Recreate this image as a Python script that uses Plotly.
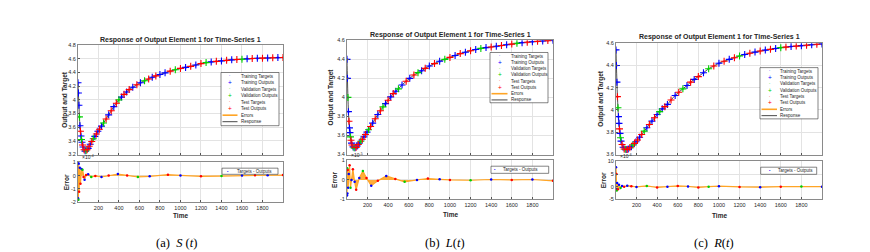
import plotly.graph_objects as go

W, H = 870, 252

# ---------------- data ----------------
t = [1, 5, 10, 15, 20, 25, 30, 35, 40, 45, 50, 60, 70, 80, 90, 100, 110, 120, 135, 150,
     165, 180, 195, 210, 230, 250, 275, 300, 325, 350, 375, 400, 425, 450, 475, 500, 535, 575, 610, 650,
     690, 725, 760, 800, 850, 900, 950, 1000, 1050, 1100, 1150, 1200, 1250, 1300, 1350, 1400, 1450, 1500,
     1550, 1600, 1650, 1700, 1750, 1800, 1850, 1900, 1950, 2000]

s_resp = [4.25, 4.10, 3.92, 3.75, 3.62, 3.54, 3.47, 3.42, 3.38, 3.34,
          3.31, 3.27, 3.25, 3.255, 3.27, 3.29, 3.32, 3.35, 3.39, 3.43,
          3.465, 3.50, 3.54, 3.57, 3.615, 3.66, 3.72, 3.78, 3.84, 3.90,
          3.95, 4.00, 4.04, 4.08, 4.115, 4.15, 4.185, 4.22, 4.25, 4.28,
          4.305, 4.33, 4.35, 4.37, 4.395, 4.42, 4.44, 4.46, 4.475, 4.49,
          4.51, 4.53, 4.545, 4.555, 4.563, 4.57, 4.578, 4.585, 4.59, 4.595,
          4.60, 4.605, 4.608, 4.61, 4.613, 4.615, 4.618, 4.62]
l_resp = [4.40, 4.20, 4.00, 3.85, 3.75, 3.68, 3.63, 3.585, 3.55, 3.52,
          3.50, 3.48, 3.47, 3.47, 3.475, 3.49, 3.505, 3.52, 3.54, 3.56,
          3.585, 3.61, 3.635, 3.66, 3.695, 3.73, 3.775, 3.82, 3.86, 3.90,
          3.935, 3.97, 4.005, 4.04, 4.065, 4.09, 4.13, 4.17, 4.20, 4.235,
          4.26, 4.28, 4.305, 4.33, 4.355, 4.38, 4.40, 4.42, 4.44, 4.46,
          4.475, 4.49, 4.503, 4.515, 4.523, 4.53, 4.538, 4.545, 4.553, 4.56,
          4.568, 4.575, 4.58, 4.585, 4.589, 4.593, 4.597, 4.60]
r_resp = [4.54, 4.40, 4.25, 4.12, 4.02, 3.94, 3.88, 3.83, 3.79, 3.75,
          3.72, 3.69, 3.665, 3.65, 3.647, 3.645, 3.646, 3.65, 3.66, 3.67,
          3.685, 3.70, 3.715, 3.73, 3.755, 3.78, 3.81, 3.84, 3.87, 3.90,
          3.93, 3.96, 3.985, 4.01, 4.03, 4.05, 4.09, 4.13, 4.16, 4.19,
          4.22, 4.25, 4.275, 4.30, 4.335, 4.37, 4.395, 4.42, 4.438, 4.455,
          4.47, 4.485, 4.498, 4.51, 4.52, 4.53, 4.538, 4.545, 4.553, 4.56,
          4.565, 4.57, 4.574, 4.578, 4.582, 4.586, 4.59, 4.594]

# r = training, v = validation, t = test
s_sets = list("rrrvrtrvrt" "rtrvtrtrtv" "rtrtrvtrtr" "tvrtrtrtrv" "trtrrtvtrt" "rtvrtrtrtv" "rtrtrtrt")
l_sets = list("rrvrtrrvtr" "trvrtrtrvt" "rtrvtrtrtv" "rtrtrvrtrt" "vrtrtrvtrt" "rtrvrtrtrt" "vrtrtrtr")
r_sets = list("rrrtvrrtrv" "rtrtvrtrtr" "vtrtrtvrtr" "trvrtrtrtv" "rtrtrvtrtr" "tvrtrtrtrv" "trtrtrtr")

# errors (in the units shown on each error axis)
s_err_t = [1, 3, 5, 8, 12, 18, 25, 35, 45, 55, 65, 80, 100, 130, 170, 230, 300, 390, 480, 585,
           700, 878, 1000, 1200, 1400, 1600, 1727, 1850, 2000]
s_err = [-1.7, 1.0, -1.8, 0.9, -1.2, 0.6, -0.6, 0.5, 0.45, -0.1, -0.3, 0.05, 0.1, -0.1, -0.02, -0.1,
         0.02, 0.12, 0.02, -0.1, -0.05, 0.07, 0.02, -0.05, -0.03, 0.02, 0.03, 0.03, 0.05]
s_err_sets = list("rrvrtrtrvt" "rtrvtrtrtv" "rtrtvrtrt")

l_err_t = [1, 3, 5, 8, 12, 18, 26, 35, 45, 58, 75, 90, 120, 155, 190, 236, 300, 382, 470, 560,
           680, 786, 900, 1000, 1200, 1400, 1600, 1800, 2000]
l_err = [-0.8, 0.6, -0.7, 0.5, -0.4, 0.3, 0.75, -0.4, 0.0, 0.55, -0.1, -0.5, 0.1, 0.45, 0.1, -0.3,
         -0.05, 0.2, 0.05, -0.1, 0.0, 0.07, 0.03, 0.0, -0.02, 0.02, 0.0, 0.02, -0.05]
l_err_sets = list("rvrtrrtvrt" "rtrvtrtrtv" "rtrtvrtrt")

r_err_t = [1, 3, 5, 8, 12, 20, 30, 45, 60, 80, 110, 150, 200, 300, 400, 500, 600, 700, 800, 900,
           1000, 1200, 1400, 1600, 1800, 2000]
r_err = [7.7, -1.0, 5.0, -1.5, 1.5, -1.0, 0.8, -0.5, 0.3, 0.0, 0.4, 0.2, -0.1, 0.3, -0.3, 0.0,
         0.3, 0.1, -0.3, 0.0, 0.2, -0.1, -0.2, 0.0, 0.1, 0.0]
r_err_sets = list("rrtvrtrvrt" "rtrvtrtrtv" "rtrtvr")

x_ticks = [200, 400, 600, 800, 1000, 1200, 1400, 1600, 1800]

s_yticks = [3.2, 3.4, 3.6, 3.8, 4.0, 4.2, 4.4, 4.6, 4.8]
s_ylabels = ["3.2", "3.4", "3.6", "3.8", "4", "4.2", "4.4", "4.6", "4.8"]
l_yticks = [3.4, 3.6, 3.8, 4.0, 4.2, 4.4, 4.6]
l_ylabels = ["3.4", "3.6", "3.8", "4", "4.2", "4.4", "4.6"]
r_yticks = [3.6, 3.8, 4.0, 4.2, 4.4, 4.6]
r_ylabels = ["3.6", "3.8", "4", "4.2", "4.4", "4.6"]

s_eticks = [-2, -1, 0, 1]
l_eticks = [-1, 0, 1]
r_eticks = [-5, 0, 5, 10]

legend_labels = ["Training Targets", "Training Outputs", "Validation Targets", "Validation Outputs",
                 "Test Targets", "Test Outputs", "Errors", "Response"]
title_text = "Response of Output Element 1 for Time-Series 1"

# ---------------- layout helpers ----------------
def px(x):
    return x / W


def py(y):
    return 1 - y / H


FONT = "Liberation Sans, Arial, sans-serif"
SERIF = "Liberation Serif, Times New Roman, serif"
TXT = "#262626"
COL = {"r": "#0000ff", "v": "#00d000", "t": "#ff0000"}
TCOL = {"r": "rgba(90,90,255,0.55)", "v": "rgba(60,220,60,0.55)", "t": "rgba(255,90,90,0.55)"}
ORANGE = "#ffa526"

panels = [
    dict(resp=s_resp, sets=s_sets, et=s_err_t, e=s_err, es=s_err_sets,
         yt=s_yticks, yl=s_ylabels, yr=[3.2, 4.8], et_ticks=s_eticks, er=[-2, 1], exp="-4",
         x=(70, 275), up=(35, 147), lo=(155, 196), title_y=30, ylab_x=57, elab_x=58, time_y=209,
         cap="(a)  <i>S</i> (<i>t</i>)", cap_x=168,
         leg=dict(box=(213, 271, 63, 117.5), row0=66.7, pitch=6.67, sym=221.7, line=(214.5, 229.5), text=231),
         eleg=dict(box=(214, 270, 161, 167.3), dot=220, text=226.5)),
    dict(resp=l_resp, sets=l_sets, et=l_err_t, e=l_err, es=l_err_sets,
         yt=l_yticks, yl=l_ylabels, yr=[3.4, 4.6], et_ticks=l_eticks, er=[-1, 1], exp="-5",
         x=(339, 545), up=(30, 147), lo=(153, 193), title_y=25, ylab_x=323, elab_x=327, time_y=208,
         cap="(b)  <i>L</i>(<i>t</i>)", cap_x=437,
         leg=dict(box=(482, 540, 42.5, 94), row0=46.3, pitch=6.4, sym=491.7, line=(483.5, 499.5), text=500.7),
         eleg=dict(box=(483, 540.7, 159, 166.3), dot=486.7, text=493.3)),
    dict(resp=r_resp, sets=r_sets, et=r_err_t, e=r_err, es=r_err_sets,
         yt=r_yticks, yl=r_ylabels, yr=[3.6, 4.6], et_ticks=r_eticks, er=[-5, 10], exp="-6",
         x=(608, 814), up=(33, 147), lo=(154, 193), title_y=27, ylab_x=593, elab_x=595, time_y=209,
         cap="(c)  <i>R</i>(<i>t</i>)", cap_x=706,
         leg=dict(box=(752, 810, 58, 110.5), row0=61.7, pitch=6.5, sym=761.7, line=(753.5, 769), text=770),
         eleg=dict(box=(752.7, 808.7, 160, 167.3), dot=761.7, text=768.3)),
]

fig = go.Figure()
layout = dict(width=W, height=H, margin=dict(l=0, r=0, t=0, b=0),
              paper_bgcolor="white", plot_bgcolor="white", showlegend=False)
annotations = []
shapes = []

axis_style = dict(showgrid=True, gridcolor="#e3e3e3", gridwidth=1, showline=True, mirror=True,
                  linecolor="#8a8a8a", linewidth=1, ticks="inside", ticklen=2, tickcolor="#555555",
                  zeroline=False, tickfont=dict(family=FONT, size=5.5, color=TXT))

for i, p in enumerate(panels):
    nu, nl = 2 * i + 1, 2 * i + 2
    xu, yu = f"x{nu}", f"y{nu}"
    xl, yl = f"x{nl}", f"y{nl}"
    xd = [px(p["x"][0]), px(p["x"][1])]

    # upper axes
    layout[f"xaxis{nu}"] = dict(domain=xd, range=[1, 2000], tickvals=x_ticks, showticklabels=False,
                                anchor=yu, **axis_style)
    layout[f"yaxis{nu}"] = dict(domain=[py(p["up"][1]), py(p["up"][0])], range=p["yr"],
                                tickvals=p["yt"], ticktext=p["yl"], anchor=xu, **axis_style)
    # lower axes
    layout[f"xaxis{nl}"] = dict(domain=xd, range=[1, 2000], tickvals=x_ticks,
                                ticktext=[str(v) for v in x_ticks], anchor=yl, **axis_style)
    layout[f"yaxis{nl}"] = dict(domain=[py(p["lo"][1]), py(p["lo"][0])], range=p["er"],
                                tickvals=p["et_ticks"], ticktext=[str(v) for v in p["et_ticks"]],
                                anchor=xl, **axis_style)

    # response line
    fig.add_trace(go.Scatter(x=t, y=p["resp"], mode="lines", line=dict(color="#222222", width=0.8, shape="spline"),
                             xaxis=xu, yaxis=yu, hoverinfo="skip"))
    # targets and outputs
    for code in ["r", "v", "t"]:
        xs = [tt for tt, s in zip(t, p["sets"]) if s == code]
        ys = [vv for vv, s in zip(p["resp"], p["sets"]) if s == code]
        fig.add_trace(go.Scatter(x=xs, y=ys, mode="markers",
                                 marker=dict(symbol="circle", size=3, color=TCOL[code]),
                                 xaxis=xu, yaxis=yu, hoverinfo="skip"))
        fig.add_trace(go.Scatter(x=xs, y=ys, mode="markers",
                                 marker=dict(symbol="cross-thin", size=5, color=COL[code],
                                             line=dict(color=COL[code], width=1.1)),
                                 xaxis=xu, yaxis=yu, hoverinfo="skip"))

    # errors
    fig.add_trace(go.Scatter(x=p["et"], y=p["e"], mode="lines", fill="tozeroy",
                             fillcolor="rgba(255,165,38,0.9)", line=dict(color=ORANGE, width=1.2),
                             xaxis=xl, yaxis=yl, hoverinfo="skip"))
    for code in ["r", "v", "t"]:
        xs = [tt for tt, s in zip(p["et"], p["es"]) if s == code]
        ys = [vv for vv, s in zip(p["e"], p["es"]) if s == code]
        fig.add_trace(go.Scatter(x=xs, y=ys, mode="markers",
                                 marker=dict(symbol="circle", size=2.5, color=COL[code]),
                                 xaxis=xl, yaxis=yl, hoverinfo="skip"))

    cx = (p["x"][0] + p["x"][1]) / 2
    # title
    annotations.append(dict(text=f"<b>{title_text}</b>", x=px(cx), y=py(p["title_y"]), xref="paper", yref="paper",
                            showarrow=False, font=dict(family=FONT, size=7, color=TXT),
                            xanchor="center", yanchor="middle"))
    # axis labels
    annotations.append(dict(text="<b>Output and Target</b>", x=px(p["ylab_x"]), y=py((p["up"][0] + p["up"][1]) / 2),
                            xref="paper", yref="paper", showarrow=False, textangle=-90,
                            font=dict(family=FONT, size=6.5, color=TXT), xanchor="center", yanchor="middle"))
    annotations.append(dict(text="<b>Error</b>", x=px(p["elab_x"]), y=py((p["lo"][0] + p["lo"][1]) / 2),
                            xref="paper", yref="paper", showarrow=False, textangle=-90,
                            font=dict(family=FONT, size=6.5, color=TXT), xanchor="center", yanchor="middle"))
    annotations.append(dict(text="<b>Time</b>", x=px(cx), y=py(p["time_y"]), xref="paper", yref="paper",
                            showarrow=False, font=dict(family=FONT, size=6.5, color=TXT),
                            xanchor="center", yanchor="middle"))
    # exponent
    annotations.append(dict(text=f"×10<sup>{p['exp']}</sup>", x=px(p["x"][0] + 1.5), y=py(p["lo"][0] - 0.5),
                            xref="paper", yref="paper", showarrow=False,
                            font=dict(family=FONT, size=5, color=TXT), xanchor="left", yanchor="bottom"))
    # caption
    annotations.append(dict(text=p["cap"], x=px(p["cap_x"]), y=py(238), xref="paper", yref="paper",
                            showarrow=False, font=dict(family=SERIF, size=12.5, color="black"),
                            xanchor="center", yanchor="middle"))

    # manual legend (upper)
    lg = p["leg"]
    b = lg["box"]
    shapes.append(dict(type="rect", xref="paper", yref="paper", x0=px(b[0]), x1=px(b[1]), y0=py(b[3]), y1=py(b[2]),
                       fillcolor="white", line=dict(color="#333333", width=0.6), layer="above"))
    for k, lab in enumerate(legend_labels):
        yy = lg["row0"] + k * lg["pitch"]
        annotations.append(dict(text=lab, x=px(lg["text"]), y=py(yy), xref="paper", yref="paper",
                                showarrow=False, font=dict(family=FONT, size=4.5, color=TXT),
                                xanchor="left", yanchor="middle"))
        code = ["r", "r", "v", "v", "t", "t"][k] if k < 6 else None
        if k < 6 and k % 2 == 0:
            annotations.append(dict(text="•", x=px(lg["sym"]), y=py(yy), xref="paper", yref="paper",
                                    showarrow=False, font=dict(family=FONT, size=3.5, color=TCOL[code]),
                                    xanchor="center", yanchor="middle"))
        elif k < 6:
            annotations.append(dict(text="+", x=px(lg["sym"]), y=py(yy), xref="paper", yref="paper",
                                    showarrow=False, font=dict(family=FONT, size=6.5, color=COL[code]),
                                    xanchor="center", yanchor="middle"))
        else:
            shapes.append(dict(type="line", xref="paper", yref="paper", x0=px(lg["line"][0]), x1=px(lg["line"][1]),
                               y0=py(yy), y1=py(yy), layer="above",
                               line=dict(color=ORANGE if k == 6 else "#333333", width=1.6 if k == 6 else 0.9)))

    # manual legend (lower)
    el = p["eleg"]
    b = el["box"]
    shapes.append(dict(type="rect", xref="paper", yref="paper", x0=px(b[0]), x1=px(b[1]), y0=py(b[3]), y1=py(b[2]),
                       fillcolor="white", line=dict(color="#333333", width=0.6), layer="above"))
    ym = (b[2] + b[3]) / 2
    annotations.append(dict(text="•", x=px(el["dot"]), y=py(ym), xref="paper", yref="paper",
                            showarrow=False, font=dict(family=FONT, size=4, color=COL["r"]),
                            xanchor="center", yanchor="middle"))
    annotations.append(dict(text="Targets - Outputs", x=px(el["text"]), y=py(ym), xref="paper", yref="paper",
                            showarrow=False, font=dict(family=FONT, size=4.5, color=TXT),
                            xanchor="left", yanchor="middle"))

layout["annotations"] = annotations
layout["shapes"] = shapes
fig.update_layout(**layout)
fig.write_html("out.html")
